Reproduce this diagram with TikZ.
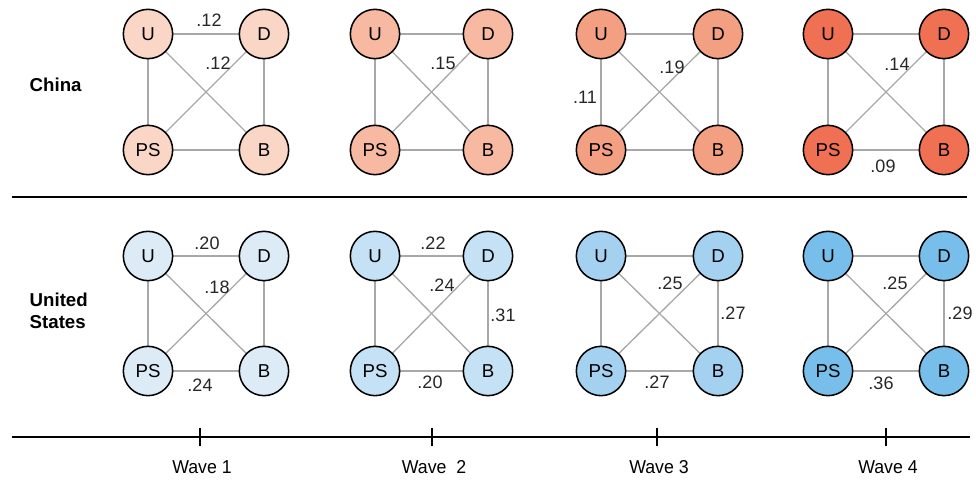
\documentclass[tikz,border=0pt]{standalone}
\usepackage{fontspec}
\setmainfont{Liberation Sans}
\usetikzlibrary{positioning,backgrounds}

\definecolor{cnA}{HTML}{FAD6C6}
\definecolor{cnB}{HTML}{F7B9A1}
\definecolor{cnC}{HTML}{F39F82}
\definecolor{cnD}{HTML}{EF7052}
\definecolor{usA}{HTML}{DDEBF7}
\definecolor{usB}{HTML}{C5E1F5}
\definecolor{usC}{HTML}{A5D1F1}
\definecolor{usD}{HTML}{77BFEA}
\definecolor{edgegray}{HTML}{A8A8A8}

\begin{document}
\begin{tikzpicture}[x=0.75pt,y=-0.75pt,
  actor/.style={circle,draw=black,line width=1.15pt,minimum size=37pt,inner sep=0pt,font=\fontsize{14}{16}\selectfont},
  tie/.style={draw=edgegray,line width=1pt},
  coef/.style={font=\fontsize{13.5}{16}\selectfont,text=black!85},
  rowname/.style={font=\fontsize{14}{16.5}\selectfont\bfseries,align=left,anchor=west},
  wave/.style={font=\fontsize{14}{16}\selectfont,xscale=0.95}]
\useasboundingbox (0,0) rectangle (976,481);

% Actors, one network per wave and country
\foreach \w/\xl/\xr/\cc/\uc in {1/148/264/cnA/usA, 2/375/488/cnB/usB, 3/601/718/cnC/usC, 4/828/944/cnD/usD}{
  % China
  \node[actor,fill=\cc] (c\w u) at (\xl,34) {U};
  \node[actor,fill=\cc] (c\w d) at (\xr,34) {D};
  \node[actor,fill=\cc] (c\w ps) at (\xl,150) {PS};
  \node[actor,fill=\cc] (c\w b) at (\xr,150) {B};
  % United States
  \node[actor,fill=\uc] (u\w u) at (\xl,256) {U};
  \node[actor,fill=\uc] (u\w d) at (\xr,256) {D};
  \node[actor,fill=\uc] (u\w ps) at (\xl,371) {PS};
  \node[actor,fill=\uc] (u\w b) at (\xr,371) {B};
}

% Ties
\begin{pgfonlayer}{background}
\foreach \w in {1,...,4}{
  \foreach \r in {c,u}{
    \draw[tie] (\r\w u) -- (\r\w d);
    \draw[tie] (\r\w u) -- (\r\w ps);
    \draw[tie] (\r\w u) -- (\r\w b);
    \draw[tie] (\r\w d) -- (\r\w ps);
    \draw[tie] (\r\w d) -- (\r\w b);
    \draw[tie] (\r\w ps) -- (\r\w b);
  }
}
\end{pgfonlayer}

% Coefficients, China
\node[coef] at (209,20) {.12};
\node[coef] at (218,63) {.12};
\node[coef] at (443,63) {.15};
\node[coef] at (672,67) {.19};
\node[coef] at (585,97) {.11};
\node[coef] at (897,64) {.14};
\node[coef] at (883,166) {.09};

% Coefficients, United States
\node[coef] at (207,243) {.20};
\node[coef] at (217,287) {.18};
\node[coef] at (200,385) {.24};
\node[coef] at (433,243) {.22};
\node[coef] at (442,285) {.24};
\node[coef] at (430,382) {.20};
\node[coef] at (503,315) {.31};
\node[coef] at (670,283) {.25};
\node[coef] at (733,313) {.27};
\node[coef] at (657,382) {.27};
\node[coef] at (895,283) {.25};
\node[coef] at (960,313) {.29};
\node[coef] at (881,383) {.36};

% Row names
\node[rowname] (china) at (25,85) {China};
\node[rowname] (usa) at (25,311) {United\\States};

% Divider
\coordinate (divl) at (12,197);
\coordinate (divr) at (967,197);
\draw[line width=1.8pt] (divl) -- (divr);

% Timeline
\coordinate (tl) at (12,437);
\coordinate (tr) at (970,437);
\draw[line width=1.4pt] (tl) -- (tr);
\foreach \n/\x/\lab in {1/200/Wave 1, 2/432/Wave~ 2, 3/657/Wave 3, 4/886/Wave 4}{
  \coordinate (tick\n) at (\x,437);
  \draw[line width=1.8pt] ([yshift=7pt]tick\n) -- ([yshift=-7pt]tick\n);
  \node[wave] (wave\n) at (\x+2,467) {\lab};
}

\end{tikzpicture}
\end{document}
